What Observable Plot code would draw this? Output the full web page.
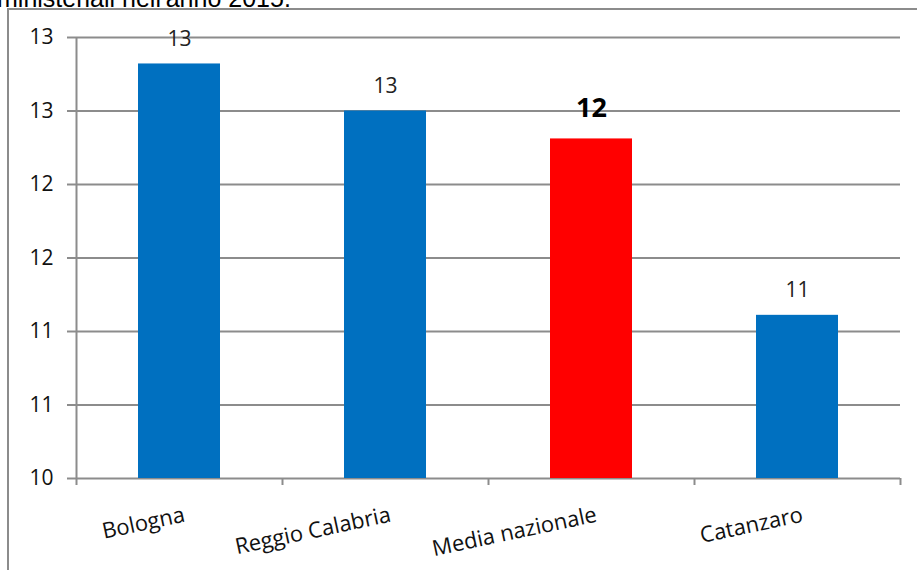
<!DOCTYPE html>
<html><head><meta charset="utf-8">
<script src="https://cdn.jsdelivr.net/npm/d3@7"></script>
<script src="https://cdn.jsdelivr.net/npm/@observablehq/plot@0.6"></script>
<style>
body{margin:0;background:#fff;}
#wrap{position:relative;width:917px;height:570px;overflow:hidden;background:#fff;}
#title{position:absolute;left:-3px;top:-16px;font:25px "Liberation Sans",Arial,sans-serif;line-height:28px;color:#000;white-space:nowrap;}
#chart{position:absolute;left:0;top:0;}
#frame{position:absolute;left:7px;top:8px;right:-5px;bottom:-5px;border-top:2px solid #8c8c8c;border-left:2px solid #8c8c8c;}
</style></head><body>
<div id="wrap"><div id="title">ministeriali nell'anno 2015.</div><div id="chart"></div><div id="frame"></div></div>
<script>
const categories = ["Bologna", "Reggio Calabria", "Media nazionale", "Catanzaro"];
const values = [12.82, 12.5, 12.31, 11.11];
const valueLabels = ["13", "13", "12", "11"];
const barColors = ["#0070C0", "#0070C0", "#FF0000", "#0070C0"];
const yTicks = [10, 10.5, 11, 11.5, 12, 12.5, 13];
const yTickLabels = ["10", "11", "11", "12", "12", "13", "13"];
const highlight = "Media nazionale";

const data = categories.map((c, i) => ({cat: c, value: values[i], label: valueLabels[i], color: barColors[i]}));
const W = 917, H = 570, mL = 76, mR = 17, mT = 37, mB = 92;
const half = (W - mL - mR) / categories.length / 2;
const yMin = yTicks[0], yMax = yTicks[yTicks.length - 1];
const gray = "#8c8c8c";
const font = "'Open Sans', Lato, sans-serif";

const chart = Plot.plot({
  width: W, height: H,
  marginLeft: mL, marginRight: mR, marginTop: mT, marginBottom: mB,
  style: {background: "transparent", fontFamily: font, fontSize: "20px"},
  x: {domain: categories, paddingInner: 0.6, paddingOuter: 0.3, label: null},
  y: {domain: [yMin, yMax], label: null},
  color: {type: "identity"},
  marks: [
    Plot.ruleY(yTicks, {stroke: gray, strokeWidth: 2}),
    Plot.ruleX([categories[0]], {x: d => d, dx: -half, y1: yMax, y2: yMin, insetBottom: -7, stroke: gray, strokeWidth: 2}),
    Plot.ruleX(categories, {x: d => d, dx: half, y1: yMin, y2: yMin, insetBottom: -7, stroke: gray, strokeWidth: 2}),
    Plot.barY(data, {x: "cat", y1: () => yMin, y2: "value", fill: "color"}),
    Plot.text(data.filter(d => d.cat !== highlight), {x: "cat", y: "value", text: "label", dy: -25, fontSize: 21, fill: "#222", fontFamily: font}),
    Plot.text(data.filter(d => d.cat === highlight), {x: "cat", y: "value", text: "label", dy: -31, fontSize: 27, fontWeight: "bold", fill: "#000", fontFamily: font}),
    Plot.axisY({ticks: yTicks, tickFormat: d => yTickLabels[yTicks.indexOf(d)], tickSize: 9, tickPadding: 14, stroke: gray, strokeWidth: 2, fontSize: 21, fill: "#111", label: null}),
    Plot.axisX({tickSize: 0, tickPadding: 36, tickRotate: -12, dx: 5, fontSize: 22, fill: "#111", label: null})
  ]
});
document.getElementById("chart").appendChild(chart);
</script>
</body></html>
